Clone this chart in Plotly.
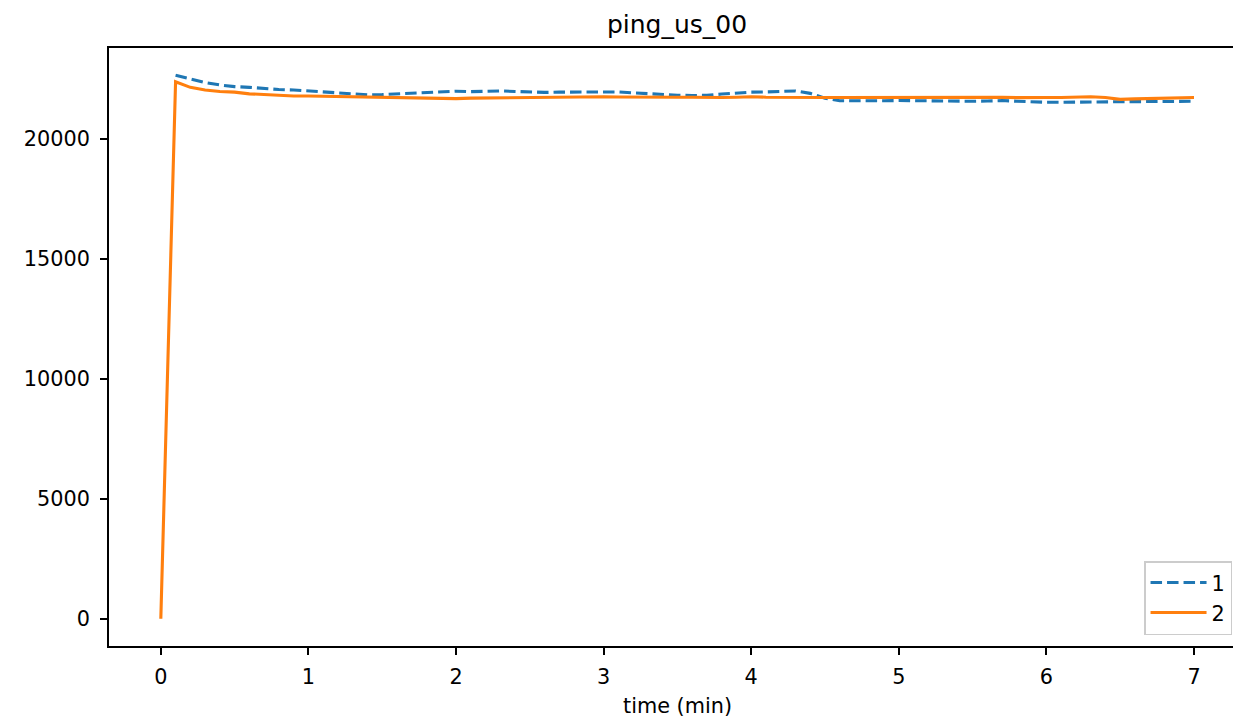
import plotly.graph_objects as go

time_min = [round(i * 0.1, 1) for i in range(71)]

series1 = [None, 22650, 22500, 22350, 22250, 22180, 22150, 22100, 22060, 22040,
           22000, 21950, 21890, 21860, 21840, 21850, 21880, 21920, 21950, 21990,
           21990, 21970, 21990, 22000, 21980, 21950, 21940, 21950, 21960, 21970,
           21980, 21960, 21920, 21880, 21840, 21820, 21810, 21820, 21870, 21920,
           21950, 21960, 21990, 22000, 21900, 21700, 21590, 21580, 21590, 21590,
           21600, 21590, 21570, 21560, 21560, 21570, 21580, 21600, 21570, 21540,
           21530, 21530, 21540, 21550, 21540, 21550, 21560, 21560, 21560, 21570,
           21570]

series2 = [0, 22380, 22150, 22040, 21980, 21950, 21880, 21840, 21820, 21790,
           21790, 21780, 21760, 21740, 21740, 21740, 21740, 21720, 21700, 21680,
           21680, 21700, 21710, 21710, 21720, 21730, 21720, 21740, 21750, 21750,
           21760, 21750, 21740, 21740, 21750, 21740, 21740, 21720, 21730, 21740,
           21760, 21740, 21730, 21750, 21740, 21730, 21730, 21730, 21740, 21760,
           21750, 21750, 21740, 21760, 21750, 21740, 21750, 21740, 21720, 21710,
           21730, 21730, 21740, 21760, 21730, 21650, 21670, 21690, 21710, 21730,
           21730]

series_names = ["1", "2"]
x_ticks = [0, 1, 2, 3, 4, 5, 6, 7]
y_ticks = [0, 5000, 10000, 15000, 20000]
y_tick_labels = ["0", "5000", "10000", "15000", "20000"]

FONT = "DejaVu Sans"
fs = 20.8

fig = go.Figure()
fig.add_trace(go.Scatter(x=time_min, y=series1, mode="lines", name=series_names[0],
                         line=dict(color="#1f77b4", width=3.1, dash="11.5px,5px"),
                         connectgaps=False))
fig.add_trace(go.Scatter(x=time_min, y=series2, mode="lines", name=series_names[1],
                         line=dict(color="#ff7f0e", width=3.1)))

W, H = 1233, 719
L, R, T, B = 108.5, 0, 47.5, 73
plot_w = W - L - R
plot_h = H - T - B

fig.update_layout(
    width=W, height=H,
    margin=dict(l=L, r=R, t=T, b=B, pad=0),
    paper_bgcolor="white", plot_bgcolor="white",
    font=dict(family=FONT, size=fs, color="black"),
    showlegend=True,
    title=dict(text="ping_us_00", font=dict(size=25, color="black", family=FONT),
               x=677 / W, xref="container", xanchor="center",
               y=1 - 24 / H, yref="container", yanchor="middle"),
    legend=dict(x=(1144 - L) / plot_w, xanchor="left", y=(646 - 635) / plot_h,
                yanchor="bottom", bgcolor="white", bordercolor="#cccccc", borderwidth=1.5,
                font=dict(size=fs, family=FONT, color="black"),
                itemwidth=56, tracegroupgap=0),
    xaxis=dict(range=[-0.351, (W - 160.3) / 147.67], tickvals=x_ticks,
               ticktext=[str(v) for v in x_ticks],
               showgrid=False, zeroline=False, showline=True, linecolor="black",
               linewidth=1.6, mirror=True, ticks="outside", ticklen=7, tickwidth=1.6,
               tickcolor="black", ticklabelstandoff=4),
    yaxis=dict(range=[-1133, 23790], tickvals=y_ticks, ticktext=y_tick_labels,
               showgrid=False, zeroline=False, showline=True, linecolor="black",
               linewidth=1.6, mirror=False, ticks="outside", ticklen=7, tickwidth=1.6,
               tickcolor="black", ticklabelstandoff=6),
    annotations=[dict(text="time (min)", xref="paper", yref="paper",
                      x=(677 - L) / plot_w, y=-(706 - 646) / plot_h,
                      xanchor="center", yanchor="middle", showarrow=False,
                      font=dict(size=fs, family=FONT, color="black"))],
)

fig.write_html("out.html", config={"displayModeBar": False},
               post_script="document.body.style.margin='0';")
